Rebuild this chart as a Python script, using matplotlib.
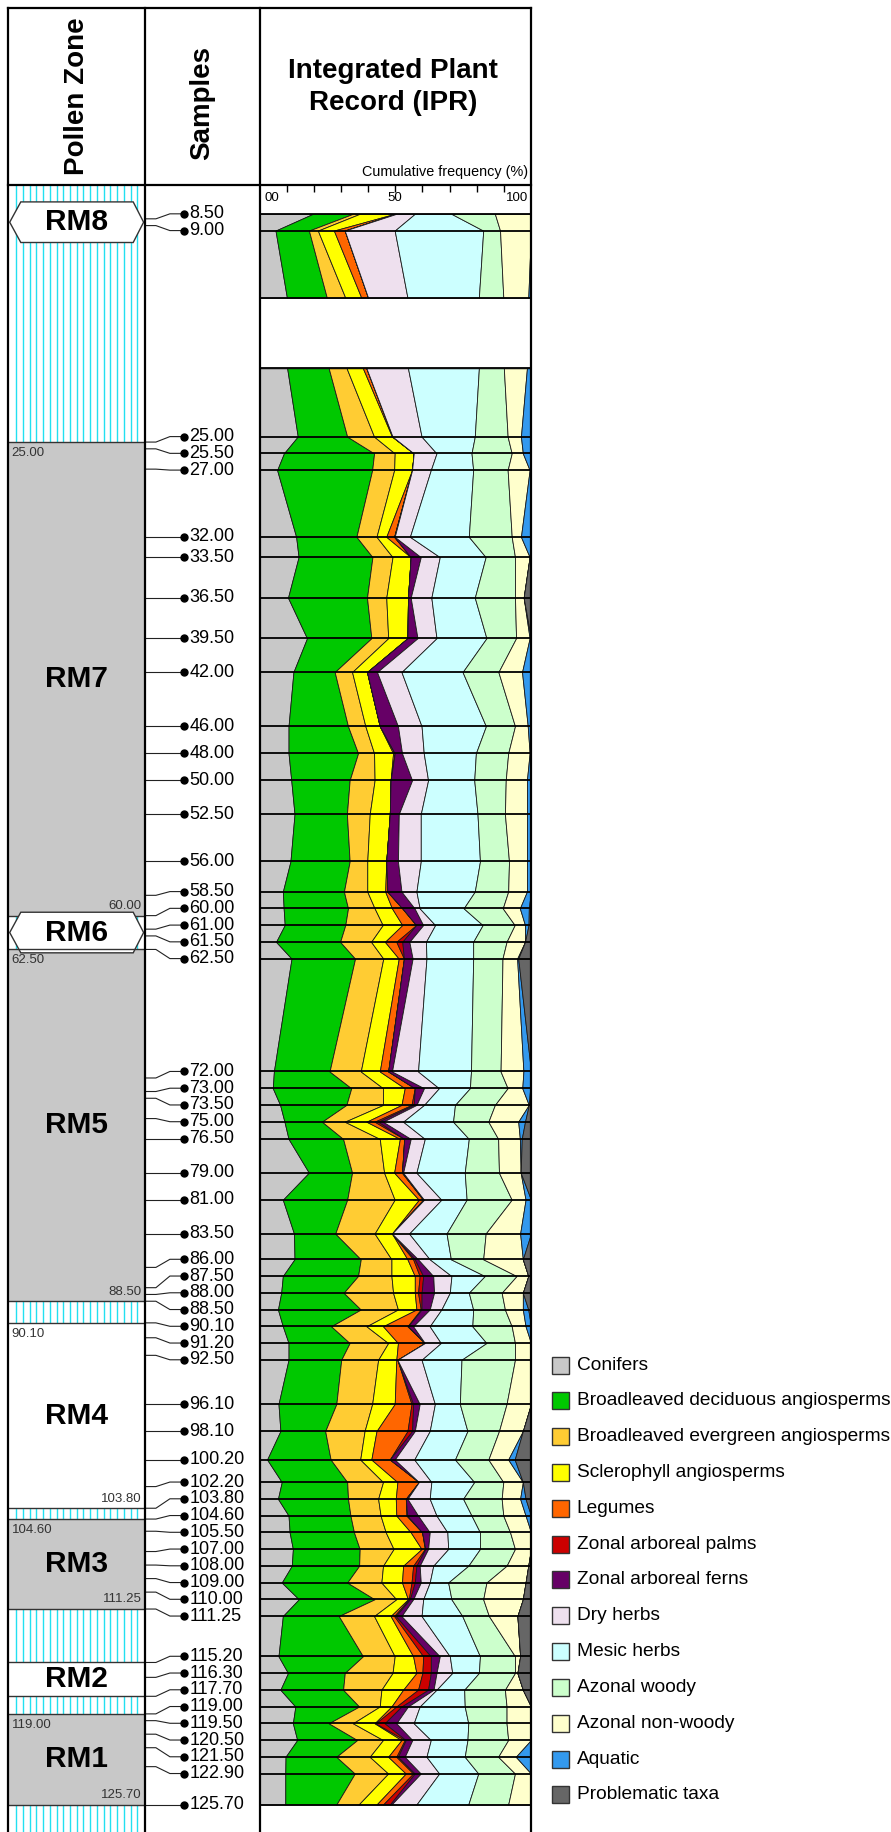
import numpy as np
import matplotlib.pyplot as plt
from matplotlib.patches import Polygon, Rectangle

plt.rcParams['font.family'] = ['Liberation Sans', 'DejaVu Sans']

# ---- sample depths and zonation ----
sample_depths = [8.50, 9.00, 25.00, 25.50, 27.00, 32.00, 33.50, 36.50, 39.50, 42.00,
                 46.00, 48.00, 50.00, 52.50, 56.00, 58.50, 60.00, 61.00, 61.50, 62.50,
                 72.00, 73.00, 73.50, 75.00, 76.50, 79.00, 81.00, 83.50, 86.00, 87.50,
                 88.00, 88.50, 90.10, 91.20, 92.50, 96.10, 98.10, 100.20, 102.20, 103.80,
                 104.60, 105.50, 107.00, 108.00, 109.00, 110.00, 111.25, 115.20, 116.30, 117.70,
                 119.00, 119.50, 120.50, 121.50, 122.90, 125.70]
hiatus = (14.33, 19.55)

zone_names = ['RM8', 'RM7', 'RM6', 'RM5', 'RM4', 'RM3', 'RM2', 'RM1']
zone_tops = [8.50, 25.00, 60.00, 62.50, 90.10, 104.60, 115.20, 119.00]
zone_bases = [9.00, 60.00, 62.50, 88.50, 103.80, 111.25, 117.70, 125.70]
zone_kind = ['hex', 'grey', 'hex', 'grey', 'white', 'grey', 'white', 'grey']
zone_limits = [False, True, False, True, True, True, False, True]

# ---- IPR, cumulative upper edge of each group (%) ----
# rows: 8.5, 9.0, hiatus top, hiatus base, 25.0 ... 125.7
cum_conifers = [19.7, 5.9, 10.1, 10.2, 14.1, 9.0, 6.5, 13.5, 14.4, 10.5,
                17.5, 12.5, 10.7, 10.7, 11.7, 12.9, 11.4, 8.6, 8.9, 9.3,
                6.1, 11.8, 5.3, 4.9, 7.6, 9.2, 10.7, 18.2, 8.6, 12.7,
                12.9, 8.6, 8.0, 6.8, 8.6, 10.7, 10.7, 7.0, 7.7, 2.8,
                8.2, 6.8, 10.7, 11.1, 12.3, 11.9, 8.2, 14.5, 8.6, 7.0,
                10.5, 7.7, 13.2, 12.3, 13.9, 9.6, 9.5, 9.5]
cum_deciduous = [34.4, 18.2, 24.8, 25.5, 32.3, 42.2, 41.5, 35.7, 41.6, 39.6,
                 41.2, 27.7, 32.6, 36.3, 33.2, 32.2, 33.2, 31.1, 32.6, 31.6,
                 29.7, 35.2, 25.8, 33.8, 32.0, 23.0, 30.8, 34.1, 32.3, 27.9,
                 37.3, 36.3, 31.0, 37.3, 26.4, 33.2, 30.1, 28.3, 24.2, 26.2,
                 32.3, 32.6, 33.5, 34.8, 36.9, 36.7, 32.3, 42.4, 29.2, 38.1,
                 31.4, 30.8, 36.7, 25.5, 36.0, 28.3, 35.1, 28.3]
cum_evergreen = [36.9, 21.5, 31.6, 32.1, 42.2, 49.8, 49.6, 43.1, 49.0, 46.7,
                 47.4, 34.1, 39.0, 42.2, 42.4, 40.6, 39.7, 39.7, 42.4, 45.4,
                 41.1, 45.6, 37.3, 45.5, 45.5, 31.4, 44.3, 45.9, 49.8, 42.4,
                 48.6, 48.6, 49.2, 51.0, 39.4, 47.4, 43.7, 41.5, 38.7, 37.1,
                 45.5, 43.7, 44.6, 46.5, 49.4, 45.5, 44.9, 50.4, 42.2, 49.8,
                 49.0, 44.9, 44.3, 34.4, 45.5, 40.6, 47.4, 36.5]
cum_sclerophyll = [49.8, 27.4, 37.5, 38.1, 48.8, 56.8, 56.2, 46.7, 55.7, 54.7,
                   54.5, 39.6, 44.3, 49.2, 48.3, 48.0, 46.7, 46.3, 48.8, 52.6,
                   46.2, 51.3, 44.3, 53.5, 52.3, 39.4, 51.7, 49.6, 58.7, 48.8,
                   54.5, 57.2, 57.2, 57.8, 45.5, 51.0, 50.4, 49.8, 43.1, 41.2,
                   50.8, 50.2, 50.4, 55.7, 59.7, 52.9, 52.5, 54.7, 48.3, 56.6,
                   57.8, 52.9, 48.6, 42.4, 52.3, 47.4, 53.9, 43.1]
cum_legumes = [50.1, 31.4, 40.0, 39.4, 49.0, 56.8, 56.2, 49.6, 55.7, 54.7,
               54.5, 39.6, 44.3, 49.8, 48.3, 48.0, 46.7, 47.1, 52.6, 57.7,
               50.4, 53.2, 47.4, 57.2, 56.0, 42.4, 53.3, 52.5, 60.3, 48.8,
               56.6, 59.0, 58.4, 59.4, 54.5, 60.9, 50.8, 56.0, 54.5, 48.0,
               58.7, 53.9, 54.1, 59.9, 60.9, 56.6, 56.0, 55.0, 49.6, 60.3,
               60.0, 58.4, 50.4, 42.8, 53.5, 50.4, 56.6, 45.5]
cum_palms = [50.1, 31.4, 40.0, 39.4, 49.0, 56.8, 56.2, 49.6, 55.7, 54.7,
             54.5, 39.6, 44.3, 49.8, 48.3, 48.0, 46.7, 47.1, 52.6, 57.7,
             52.6, 53.2, 47.4, 57.2, 56.8, 43.7, 53.3, 52.5, 60.3, 48.8,
             57.2, 60.3, 59.7, 59.7, 54.7, 60.9, 50.8, 56.6, 56.2, 48.0,
             58.7, 53.9, 54.4, 59.9, 61.1, 57.8, 57.2, 55.4, 50.2, 63.1,
             63.1, 62.1, 52.3, 46.1, 53.9, 51.0, 57.2, 48.0]
cum_ferns = [50.4, 31.4, 40.0, 39.4, 49.0, 56.8, 56.2, 49.8, 59.4, 55.7,
             58.2, 43.3, 51.0, 52.5, 56.2, 51.3, 51.0, 52.3, 57.1, 60.3,
             55.2, 56.4, 48.8, 60.6, 57.8, 45.5, 55.7, 52.9, 60.6, 48.8,
             58.4, 64.0, 64.3, 62.7, 56.6, 60.9, 50.8, 59.0, 57.2, 49.8,
             58.7, 54.5, 58.4, 62.7, 62.1, 59.0, 59.4, 56.6, 52.3, 66.4,
             65.2, 64.1, 54.7, 50.4, 56.3, 53.5, 59.4, 48.6]
cum_dry = [57.2, 49.8, 54.5, 54.7, 59.7, 65.2, 63.1, 55.4, 66.4, 63.3,
           65.2, 52.3, 59.7, 60.5, 62.1, 59.4, 59.4, 57.8, 59.0, 64.7,
           61.3, 61.5, 58.4, 66.1, 60.6, 52.9, 60.9, 57.8, 67.0, 55.1,
           62.7, 70.7, 70.1, 67.0, 62.7, 66.8, 59.7, 64.6, 62.7, 57.0,
           63.3, 62.7, 65.2, 69.2, 69.5, 64.0, 62.7, 60.3, 59.7, 70.1,
           71.0, 65.2, 59.0, 56.8, 63.1, 61.5, 66.2, 57.8]
cum_mesic = [70.7, 82.4, 80.8, 80.8, 79.3, 78.1, 78.7, 77.1, 83.3, 79.3,
             83.6, 74.8, 83.4, 79.7, 79.1, 80.3, 81.2, 79.3, 75.2, 82.2,
             78.7, 78.7, 77.9, 77.5, 72.0, 71.3, 77.1, 75.6, 76.3, 68.9,
             70.5, 83.0, 77.1, 78.7, 78.4, 83.6, 74.4, 73.8, 76.6, 72.0,
             79.1, 75.0, 78.1, 81.2, 81.2, 76.9, 69.5, 70.7, 74.7, 81.2,
             80.8, 75.4, 75.6, 76.9, 76.6, 75.6, 80.6, 76.9]
cum_az_woody = [86.7, 88.6, 89.8, 90.0, 91.4, 92.9, 91.4, 92.9, 94.1, 94.1,
                94.5, 88.0, 94.1, 91.6, 90.7, 90.4, 91.9, 91.6, 89.6, 94.0,
                91.0, 89.5, 88.8, 91.4, 86.7, 84.3, 87.9, 88.2, 92.9, 83.3,
                82.4, 94.7, 89.2, 90.4, 92.9, 94.1, 94.1, 91.0, 88.2, 84.3,
                89.8, 89.2, 89.8, 92.3, 94.1, 91.0, 83.6, 82.4, 84.5, 94.1,
                94.1, 90.4, 91.0, 91.0, 91.6, 87.9, 94.1, 91.6]
cum_az_nonwoody = [100, 100, 99.0, 98.5, 96.3, 97.0, 99.5, 96.3, 99.5, 97.3,
                   99.5, 96.7, 98.8, 99.5, 98.5, 98.5, 98.5, 98.5, 95.9, 97.8,
                   97.8, 94.9, 97.2, 96.8, 99.2, 95.3, 95.9, 96.2, 98.0, 96.0,
                   97.0, 99.0, 97.0, 97.0, 98.0, 100, 100, 100, 97.0, 91.6,
                   97.0, 96.0, 98.0, 100, 100, 99.0, 98.0, 97.0, 95.0, 96.0,
                   95.0, 97.0, 100, 100, 100, 94.4, 100, 100]
cum_aquatic = [100, 100, 100, 100, 100, 100, 100, 100, 99.5, 97.3,
               100, 100, 100, 100, 100, 100, 100, 100, 99.2, 99.1,
               97.8, 95.3, 100, 99.7, 99.2, 97.8, 96.6, 96.2, 100, 100,
               97.0, 99.0, 97.0, 99.0, 100, 100, 100, 100, 97.0, 94.0,
               97.0, 98.0, 100, 100, 100, 99.0, 98.0, 97.0, 95.0, 96.0,
               95.0, 97.0, 100, 100, 100, 100, 100, 100]

groups = ['Conifers', 'Broadleaved deciduous angiosperms', 'Broadleaved evergreen angiosperms',
          'Sclerophyll angiosperms', 'Legumes', 'Zonal arboreal palms', 'Zonal arboreal ferns',
          'Dry herbs', 'Mesic herbs', 'Azonal woody', 'Azonal non-woody', 'Aquatic',
          'Problematic taxa']
colors = ['#c8c8c8', '#00c800', '#ffcc33', '#ffff00', '#ff6600', '#cc0000', '#660066',
          '#eee0ee', '#ccffff', '#ccffcc', '#ffffcc', '#3399ee', '#666666']

# ---- page layout (pixels) ----
W, H = 891, 1832
X_LEFT, X_ZONE, X_SAMP, X_IPR = 8.3, 144.6, 259.5, 531.0
Y_TOP, Y_HEAD = 8.0, 185.0
PX_PER_M = 13.53
D_TOP = 6.0
D_BOT = D_TOP + (H - Y_HEAD) / PX_PER_M


def spread(depths, gap):
    # push crowded labels apart, keeping each crowd centred on its mean depth
    grp = [[d] for d in depths]
    moved = True
    while moved:
        moved = False
        out = [grp[0]]
        for g in grp[1:]:
            prev = out[-1]
            prev_end = np.mean(prev) + (len(prev) - 1) / 2 * gap
            start = np.mean(g) - (len(g) - 1) / 2 * gap
            if start - prev_end < gap - 1e-9:
                out[-1] = prev + g
                moved = True
            else:
                out.append(g)
        grp = out
    pos = []
    for g in grp:
        c = np.mean(g)
        pos += [c + (k - (len(g) - 1) / 2) * gap for k in range(len(g))]
    return np.array(pos)


label_pos = spread(sample_depths, 16.75 / PX_PER_M)

fig = plt.figure(figsize=(W / 100, H / 100), dpi=100)


def column(x0, x1):
    ax = fig.add_axes([x0 / W, 0, (x1 - x0) / W, (H - Y_HEAD) / H])
    ax.set_ylim(D_BOT, D_TOP)
    for s in ax.spines.values():
        s.set_visible(False)
    ax.set_xticks([])
    ax.set_yticks([])
    return ax


px = 1 / PX_PER_M

# ---- pollen zones ----
axz = column(X_LEFT, X_ZONE)
axz.set_xlim(X_LEFT, X_ZONE)
axz.vlines(np.arange(16.3, 140, 6.72), D_TOP, D_BOT, color='#22e0f0', lw=1.0)
for name, top, base, kind, lim in zip(zone_names, zone_tops, zone_bases, zone_kind, zone_limits):
    mid = (top + base) / 2
    if kind == 'hex':
        hh = 20.3 * px
        pts = [(9.7, mid), (20.8, mid - hh), (133.2, mid - hh), (143.6, mid),
               (133.2, mid + hh), (20.8, mid + hh)]
        axz.add_patch(Polygon(pts, closed=True, fc='white', ec='#333333', lw=1.0, zorder=3))
    else:
        fc = '#c8c8c8' if kind == 'grey' else 'white'
        axz.add_patch(Rectangle((X_LEFT, top), X_ZONE - X_LEFT, base - top, fc=fc, ec='none', zorder=2))
        axz.hlines([top, base], X_LEFT, X_ZONE, color='#333333', lw=1.0, zorder=3)
        if lim:
            axz.text(11.5, top + 11 * px, f'{top:.2f}', fontsize=9.5, color='#333333',
                     ha='left', va='center', zorder=4)
            axz.text(141.9, base - 9.6 * px, f'{base:.2f}', fontsize=9.5, color='#333333',
                     ha='right', va='center', zorder=4)
    axz.text(76.5, mid, name, fontsize=21.5, fontweight='bold', ha='center', va='center', zorder=4)

# ---- sample labels with leaders ----
axs = column(X_ZONE, X_SAMP)
axs.set_xlim(X_ZONE, X_SAMP)
DOT_X = 183.5
for d, p in zip(sample_depths, label_pos):
    if abs(p - d) < 0.05:
        axs.plot([X_ZONE, DOT_X], [d, d], color='#222222', lw=0.8)
    else:
        axs.plot([X_ZONE, 155.9, 169.9, DOT_X], [d, d, p, p], color='#222222', lw=0.8)
    axs.plot(DOT_X, p, 'o', color='black', ms=5)
    axs.text(189.5, p, f'{d:.2f}', fontsize=13, ha='left', va='center')

# ---- integrated plant record ----
axi = column(X_SAMP, X_IPR)
axi.set_xlim(0, 100)
row_pos = np.concatenate([label_pos[:2], hiatus, label_pos[2:]])
cum = [cum_conifers, cum_deciduous, cum_evergreen, cum_sclerophyll, cum_legumes, cum_palms,
       cum_ferns, cum_dry, cum_mesic, cum_az_woody, cum_az_nonwoody, cum_aquatic]
edges = np.vstack([np.zeros(len(row_pos))] + [np.array(c, float) for c in cum]
                  + [np.full(len(row_pos), 100.0)])
edges = np.maximum.accumulate(edges, axis=0)
for seg in (slice(0, 3), slice(3, None)):
    y = row_pos[seg]
    for k in range(len(groups)):
        axi.fill_betweenx(y, edges[k][seg], edges[k + 1][seg], facecolor=colors[k],
                          edgecolor='#1a1a1a', lw=0.6)
axi.hlines(row_pos, 0, 100, color='black', lw=1.3)
axi.xaxis.set_ticks_position('top')
axi.set_xticks(np.arange(10, 100, 10))
axi.tick_params(axis='x', direction='in', length=5, width=1, labeltop=False, color='black')
lab_y = D_TOP + 12.7 * px
axi.text(2.0, lab_y, '00', fontsize=9.5, ha='left', va='center')
axi.text(50, lab_y, '50', fontsize=9.5, ha='center', va='center')
axi.text(99.0, lab_y, '100', fontsize=9.5, ha='right', va='center')

# ---- frame, headings and key ----
ov = fig.add_axes([0, 0, 1, 1])
ov.set_xlim(0, W)
ov.set_ylim(H, 0)
ov.axis('off')
ov.patch.set_alpha(0)
ov.plot([X_LEFT, X_IPR], [Y_TOP, Y_TOP], color='black', lw=1.6)
ov.plot([X_LEFT, X_IPR], [Y_HEAD, Y_HEAD], color='black', lw=1.6)
for x in (X_LEFT, X_ZONE, X_SAMP, X_IPR):
    ov.plot([x, x], [Y_TOP, H], color='black', lw=1.6)

ov.text(76.5, 96.5, 'Pollen Zone', rotation=90, fontsize=20, fontweight='bold',
        ha='center', va='center')
ov.text(202.0, 103.5, 'Samples', rotation=90, fontsize=20, fontweight='bold',
        ha='center', va='center')
ov.text(393.0, 71.0, 'Integrated Plant', fontsize=20, fontweight='bold', ha='center', va='center')
ov.text(393.0, 103.0, 'Record (IPR)', fontsize=20, fontweight='bold', ha='center', va='center')
ov.text(527.7, 172.0, 'Cumulative frequency (%)', fontsize=10.4, ha='right', va='center')

key_y = 1365 + 35.83 * np.arange(len(groups))
for name, c, y in zip(groups, colors, key_y):
    ov.add_patch(Rectangle((551.7, y - 8.5), 17, 17, fc=c, ec='#333333', lw=1.0))
    ov.text(576.7, y, name, fontsize=13.8, ha='left', va='center')

fig.savefig('out.png', dpi=100)
